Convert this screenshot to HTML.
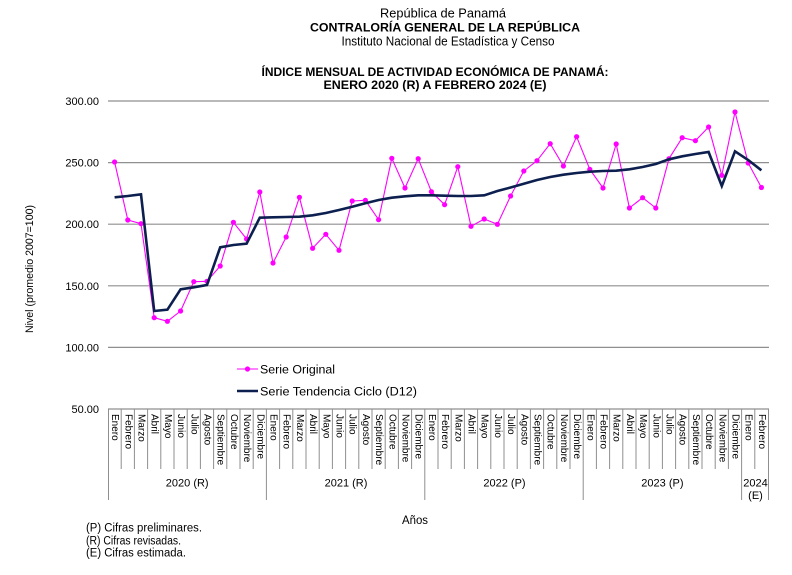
<!DOCTYPE html>
<html>
<head>
<meta charset="utf-8">
<style>
html,body{margin:0;padding:0;background:#fff;}
svg{display:block;}
text{font-family:"Liberation Sans",Arial,sans-serif;fill:#000;}
</style>
</head>
<body>
<svg width="792" height="575" viewBox="0 0 792 575" xmlns="http://www.w3.org/2000/svg">
<rect width="792" height="575" fill="#fff"/>
<!-- Titles -->
<text x="443" y="17.5" font-size="12.8" text-anchor="middle" textLength="126" lengthAdjust="spacingAndGlyphs">República de Panamá</text>
<text x="445" y="31.5" font-size="12.3" font-weight="bold" text-anchor="middle" textLength="270" lengthAdjust="spacingAndGlyphs">CONTRALORÍA  GENERAL DE LA REPÚBLICA</text>
<text x="448" y="45.5" font-size="12.5" text-anchor="middle" textLength="213" lengthAdjust="spacingAndGlyphs">Instituto Nacional de Estadística y Censo</text>
<text x="435" y="76" font-size="12" font-weight="bold" text-anchor="middle" textLength="347" lengthAdjust="spacingAndGlyphs">ÍNDICE MENSUAL DE ACTIVIDAD ECONÓMICA DE PANAMÁ:</text>
<text x="435" y="88.8" font-size="12" font-weight="bold" text-anchor="middle" textLength="223" lengthAdjust="spacingAndGlyphs">ENERO 2020 (R) A FEBRERO 2024 (E)</text>

<!-- Gridlines -->
<g stroke="#8f8f8f" stroke-width="1.2">
<line x1="108" y1="101" x2="769" y2="101"/>
<line x1="108" y1="162.6" x2="769" y2="162.6"/>
<line x1="108" y1="224.2" x2="769" y2="224.2"/>
<line x1="108" y1="285.8" x2="769" y2="285.8"/>
<line x1="108" y1="347.4" x2="769" y2="347.4"/>
<line x1="108" y1="409" x2="769" y2="409"/>
</g>

<!-- Y tick labels -->
<g font-size="11" text-anchor="end">
<text x="99" y="105">300.00</text>
<text x="99" y="166.6">250.00</text>
<text x="99" y="228.2">200.00</text>
<text x="99" y="289.8">150.00</text>
<text x="99" y="351.4">100.00</text>
<text x="99" y="413">50.00</text>
</g>
<text transform="translate(33,269) rotate(-90)" font-size="11" text-anchor="middle" textLength="128" lengthAdjust="spacingAndGlyphs">Nivel (promedio 2007=100)</text>

<!-- Category axis ticks -->
<g stroke="#8f8f8f" stroke-width="1">
<path id="ticks" d="M121.2 409V469M134.4 409V469M147.6 409V469M160.8 409V469M174 409V469M187.2 409V469M200.4 409V469M213.6 409V469M226.8 409V469M240 409V469M253.2 409V469
M279.6 409V469M292.8 409V469M306 409V469M319.2 409V469M332.4 409V469M345.6 409V469M358.8 409V469M372 409V469M385.2 409V469M398.4 409V469M411.6 409V469
M438 409V469M451.2 409V469M464.4 409V469M477.6 409V469M490.8 409V469M504 409V469M517.2 409V469M530.4 409V469M543.6 409V469M556.8 409V469M570 409V469
M596.4 409V469M609.6 409V469M622.8 409V469M636 409V469M649.2 409V469M662.4 409V469M675.6 409V469M688.8 409V469M702 409V469M715.2 409V469M728.4 409V469
M754.8 409V469
M108.5 409V500M266.4 409V500M424.8 409V500M583.2 409V500M741.6 409V500M768.5 409V500" fill="none"/>
</g>

<!-- Month labels -->
<g font-size="10" dominant-baseline="central">
<text transform="translate(114.6,414) rotate(90)">Enero</text>
<text transform="translate(127.8,414) rotate(90)">Febrero</text>
<text transform="translate(141,414) rotate(90)">Marzo</text>
<text transform="translate(154.2,414) rotate(90)">Abril</text>
<text transform="translate(167.4,414) rotate(90)">Mayo</text>
<text transform="translate(180.6,414) rotate(90)">Junio</text>
<text transform="translate(193.8,414) rotate(90)">Julio</text>
<text transform="translate(207,414) rotate(90)">Agosto</text>
<text transform="translate(220.2,414) rotate(90)">Septiembre</text>
<text transform="translate(233.4,414) rotate(90)">Octubre</text>
<text transform="translate(246.6,414) rotate(90)">Noviembre</text>
<text transform="translate(259.8,414) rotate(90)">Diciembre</text>
<text transform="translate(273,414) rotate(90)">Enero</text>
<text transform="translate(286.2,414) rotate(90)">Febrero</text>
<text transform="translate(299.4,414) rotate(90)">Marzo</text>
<text transform="translate(312.6,414) rotate(90)">Abril</text>
<text transform="translate(325.8,414) rotate(90)">Mayo</text>
<text transform="translate(339,414) rotate(90)">Junio</text>
<text transform="translate(352.2,414) rotate(90)">Julio</text>
<text transform="translate(365.4,414) rotate(90)">Agosto</text>
<text transform="translate(378.6,414) rotate(90)">Septiembre</text>
<text transform="translate(391.8,414) rotate(90)">Octubre</text>
<text transform="translate(405,414) rotate(90)">Noviembre</text>
<text transform="translate(418.2,414) rotate(90)">Diciembre</text>
<text transform="translate(431.4,414) rotate(90)">Enero</text>
<text transform="translate(444.6,414) rotate(90)">Febrero</text>
<text transform="translate(457.8,414) rotate(90)">Marzo</text>
<text transform="translate(471,414) rotate(90)">Abril</text>
<text transform="translate(484.2,414) rotate(90)">Mayo</text>
<text transform="translate(497.4,414) rotate(90)">Junio</text>
<text transform="translate(510.6,414) rotate(90)">Julio</text>
<text transform="translate(523.8,414) rotate(90)">Agosto</text>
<text transform="translate(537,414) rotate(90)">Septiembre</text>
<text transform="translate(550.2,414) rotate(90)">Octubre</text>
<text transform="translate(563.4,414) rotate(90)">Noviembre</text>
<text transform="translate(576.6,414) rotate(90)">Diciembre</text>
<text transform="translate(589.8,414) rotate(90)">Enero</text>
<text transform="translate(603,414) rotate(90)">Febrero</text>
<text transform="translate(616.2,414) rotate(90)">Marzo</text>
<text transform="translate(629.4,414) rotate(90)">Abril</text>
<text transform="translate(642.6,414) rotate(90)">Mayo</text>
<text transform="translate(655.8,414) rotate(90)">Junio</text>
<text transform="translate(669,414) rotate(90)">Julio</text>
<text transform="translate(682.2,414) rotate(90)">Agosto</text>
<text transform="translate(695.4,414) rotate(90)">Septiembre</text>
<text transform="translate(708.6,414) rotate(90)">Octubre</text>
<text transform="translate(721.8,414) rotate(90)">Noviembre</text>
<text transform="translate(735,414) rotate(90)">Diciembre</text>
<text transform="translate(748.2,414) rotate(90)">Enero</text>
<text transform="translate(761.4,414) rotate(90)">Febrero</text>
</g>

<!-- Year labels -->
<g font-size="11" text-anchor="middle">
<text x="187.2" y="486.3">2020 (R)</text>
<text x="346" y="486.3">2021 (R)</text>
<text x="504.5" y="486.3">2022 (P)</text>
<text x="662.4" y="486.3">2023 (P)</text>
<text x="755.5" y="486.3">2024</text>
<text x="755.5" y="499">(E)</text>
</g>

<text x="415" y="524" font-size="11.5" text-anchor="middle" textLength="26" lengthAdjust="spacingAndGlyphs">Años</text>

<!-- Footnotes -->
<g font-size="11.5">
<text x="86" y="531.6" textLength="116" lengthAdjust="spacingAndGlyphs">(P) Cifras preliminares.</text>
<text x="86" y="544.4" textLength="95" lengthAdjust="spacingAndGlyphs">(R) Cifras revisadas.</text>
<text x="86" y="556.6" textLength="100" lengthAdjust="spacingAndGlyphs">(E) Cifras estimada.</text>
</g>

<!-- Series Original -->
<polyline fill="none" stroke="#ff00ff" stroke-width="1.1" stroke-linejoin="round"
points="114.6,162 127.8,220 141,223.7 154.2,317.7 167.4,321.3 180.6,311 193.8,281.7 207,281.3 220.2,266 233.4,222.3 246.6,239 259.8,192 273,263 286.2,237 299.4,197.3 312.6,248.3 325.8,234.3 339,250.3 352.2,201 365.4,200.3 378.6,219.7 391.8,158.3 405,188 418.2,158.7 431.4,191.7 444.6,204.7 457.8,166.7 471,226.3 484.2,219 497.4,224.3 510.6,196 523.8,171 537,160.7 550.2,143.7 563.4,166 576.6,136.7 589.8,169.3 603,188 616.2,144 629.4,208 642.6,197.7 655.8,208 669,158.7 682.2,137.7 695.4,140.7 708.6,127 721.8,175.3 735,112 748.2,163 761.4,187.5"/>
<g fill="#ff00ff">
<circle cx="114.6" cy="162" r="2.6"/><circle cx="127.8" cy="220" r="2.6"/><circle cx="141" cy="223.7" r="2.6"/><circle cx="154.2" cy="317.7" r="2.6"/><circle cx="167.4" cy="321.3" r="2.6"/><circle cx="180.6" cy="311" r="2.6"/><circle cx="193.8" cy="281.7" r="2.6"/><circle cx="207" cy="281.3" r="2.6"/><circle cx="220.2" cy="266" r="2.6"/><circle cx="233.4" cy="222.3" r="2.6"/><circle cx="246.6" cy="239" r="2.6"/><circle cx="259.8" cy="192" r="2.6"/><circle cx="273" cy="263" r="2.6"/><circle cx="286.2" cy="237" r="2.6"/><circle cx="299.4" cy="197.3" r="2.6"/><circle cx="312.6" cy="248.3" r="2.6"/><circle cx="325.8" cy="234.3" r="2.6"/><circle cx="339" cy="250.3" r="2.6"/><circle cx="352.2" cy="201" r="2.6"/><circle cx="365.4" cy="200.3" r="2.6"/><circle cx="378.6" cy="219.7" r="2.6"/><circle cx="391.8" cy="158.3" r="2.6"/><circle cx="405" cy="188" r="2.6"/><circle cx="418.2" cy="158.7" r="2.6"/><circle cx="431.4" cy="191.7" r="2.6"/><circle cx="444.6" cy="204.7" r="2.6"/><circle cx="457.8" cy="166.7" r="2.6"/><circle cx="471" cy="226.3" r="2.6"/><circle cx="484.2" cy="219" r="2.6"/><circle cx="497.4" cy="224.3" r="2.6"/><circle cx="510.6" cy="196" r="2.6"/><circle cx="523.8" cy="171" r="2.6"/><circle cx="537" cy="160.7" r="2.6"/><circle cx="550.2" cy="143.7" r="2.6"/><circle cx="563.4" cy="166" r="2.6"/><circle cx="576.6" cy="136.7" r="2.6"/><circle cx="589.8" cy="169.3" r="2.6"/><circle cx="603" cy="188" r="2.6"/><circle cx="616.2" cy="144" r="2.6"/><circle cx="629.4" cy="208" r="2.6"/><circle cx="642.6" cy="197.7" r="2.6"/><circle cx="655.8" cy="208" r="2.6"/><circle cx="669" cy="158.7" r="2.6"/><circle cx="682.2" cy="137.7" r="2.6"/><circle cx="695.4" cy="140.7" r="2.6"/><circle cx="708.6" cy="127" r="2.6"/><circle cx="721.8" cy="175.3" r="2.6"/><circle cx="735" cy="112" r="2.6"/><circle cx="748.2" cy="163" r="2.6"/><circle cx="761.4" cy="187.5" r="2.6"/>
</g>

<!-- Trend -->
<polyline fill="none" stroke="#0c1f4f" stroke-width="2.6" stroke-linejoin="miter"
points="114.6,197.3 127.8,196 141,194.3 154.2,311 167.4,309.7 180.6,289.3 193.8,287.3 207,285 220.2,247.3 233.4,245 246.6,243.7 259.8,217.7 273,217.3 286.2,217 299.4,216.7 312.6,215.3 325.8,213 339,210 352.2,206.7 365.4,203.3 378.6,200 391.8,197.7 405,196.3 418.2,195.3 431.4,195.3 444.6,195.7 457.8,196 471,196 484.2,195.3 497.4,191 510.6,187.5 523.8,183.7 537,180 550.2,177 563.4,174.7 576.6,173 589.8,171.7 603,171 616.2,170.7 629.4,169.3 642.6,167 655.8,164 669,159.3 682.2,156.3 695.4,154 708.6,152 721.8,186 735,151.3 748.2,160 761.4,170.3"/>

<!-- Legend -->
<line x1="237" y1="369" x2="258" y2="369" stroke="#ff00ff" stroke-width="1.1"/>
<circle cx="247.5" cy="369" r="2.6" fill="#ff00ff"/>
<text x="260" y="373.5" font-size="12.3" textLength="75" lengthAdjust="spacingAndGlyphs">Serie Original</text>
<line x1="237" y1="391" x2="258" y2="391" stroke="#0c1f4f" stroke-width="2.6"/>
<text x="260" y="395.3" font-size="12.3" textLength="157" lengthAdjust="spacingAndGlyphs">Serie Tendencia Ciclo (D12)</text>
</svg>
</body>
</html>
